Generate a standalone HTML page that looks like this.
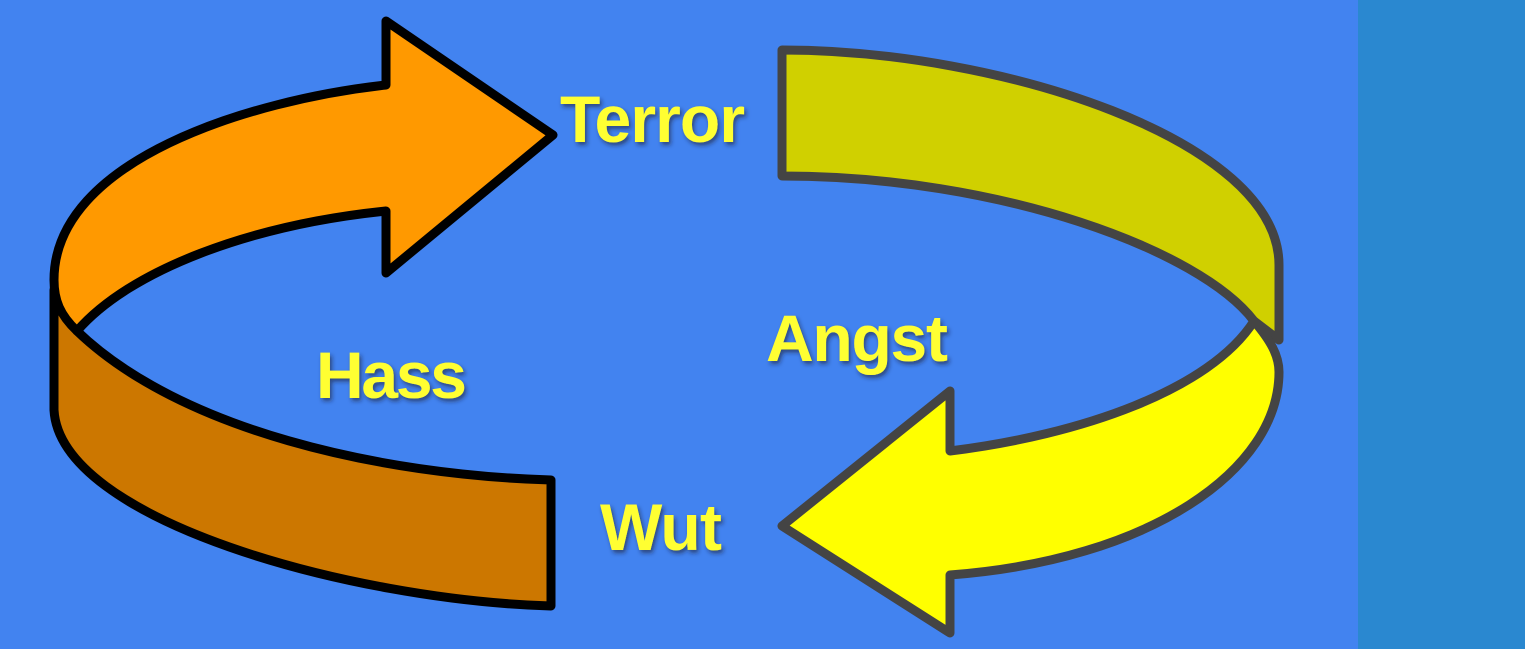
<!DOCTYPE html>
<html><head><meta charset="utf-8"><style>
html,body{margin:0;padding:0;}
body{width:1525px;height:649px;overflow:hidden;background:#4283F0;position:relative;}
.side{position:absolute;left:1358px;top:0;width:167px;height:649px;background:#2A88D0;}
svg{position:absolute;left:0;top:0;}
text{font-family:"Liberation Sans",sans-serif;font-weight:bold;font-size:66px;fill:#FFFF33;}
</style></head><body>
<div class="side"></div>
<svg width="1525" height="649" viewBox="0 0 1525 649">
<defs><filter id="sh" x="-10%" y="-10%" width="130%" height="140%"><feDropShadow dx="2" dy="3" stdDeviation="2" flood-color="#223" flood-opacity="0.6"/></filter></defs>
<g stroke-linejoin="round" stroke-width="9">
<path d="M54,290 L77,331 C180,430 380,475 551,480 L551,606 C350,600 60,520 54,410 Z" fill="#CC7700" stroke="#000"/>
<path d="M386,85 L386,21 L553,135 L386,273 L386,211 C250,225 130,270 77,331 C60,315 54,300 54,280 C54,160 250,100 386,85 Z" fill="#FF9900" stroke="#000"/>
<path d="M782,50 C1000,50 1279,140 1279,265 L1279,340 L1254,321 C1200,250 1000,176 782,176 Z" fill="#D0D000" stroke="#444"/>
<path d="M1254,321 C1270,340 1279,355 1279,372 C1279,470 1150,560 950,575 L950,633 L782,526 L950,391 L950,451 C1080,435 1210,390 1254,321 Z" fill="#FFFF00" stroke="#444"/>
</g>
<g filter="url(#sh)">
<text x="560" y="142" textLength="185">Terror</text>
<text x="766" y="361" textLength="182">Angst</text>
<text x="316" y="398" textLength="151">Hass</text>
<text x="600" y="550" textLength="122">Wut</text>
</g>
</svg>
</body></html>
